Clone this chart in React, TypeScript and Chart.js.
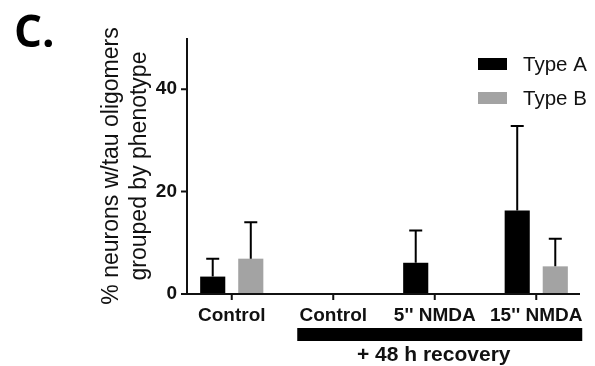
import React, { useEffect, useRef } from 'react';
import { Chart, registerables } from 'chart.js';

Chart.register(...registerables);

const categories = ['Control', 'Control', "5'' NMDA", "15'' NMDA"];
const seriesNames = ['Type A', 'Type B'];
const typeA = [3.4, 0, 6.1, 16.3];
const typeAErr = [3.5, 0, 6.3, 16.5];
const typeB = [6.9, 0, 0, 5.4];
const typeBErr = [7.1, 0, 0, 5.4];
const yTicks = [0, 20, 40];
const yMax = 50;
const yTitle = ['% neurons w/tau oligomers', 'grouped by phenotype'];
const groupLabel = '+ 48 h recovery';
const panelLabel = 'C.';

const colors = ['#000000', '#a3a3a3'];
const FONT = '"Liberation Sans", Arial, sans-serif';

const decorPlugin = {
  id: 'decor',
  afterDatasetsDraw(chart: any) {
    const ctx = chart.ctx;
    const xs = chart.scales.x;
    const ys = chart.scales.y;
    const area = chart.chartArea;
    const y0 = ys.getPixelForValue(0);
    const yTop = ys.getPixelForValue(yMax);
    const axisX = area.left + 6;
    ctx.save();

    // error bars
    const errs = [typeAErr, typeBErr];
    const vals = [typeA, typeB];
    chart.data.datasets.forEach((ds: any, di: number) => {
      const meta = chart.getDatasetMeta(di);
      meta.data.forEach((bar: any, i: number) => {
        const e = errs[di][i];
        if (!e) return;
        const top = ys.getPixelForValue(vals[di][i]);
        const cap = ys.getPixelForValue(vals[di][i] + e);
        ctx.strokeStyle = '#000';
        ctx.lineWidth = 2;
        ctx.beginPath();
        ctx.moveTo(bar.x, top);
        ctx.lineTo(bar.x, cap);
        ctx.moveTo(bar.x - 6.5, cap);
        ctx.lineTo(bar.x + 6.5, cap);
        ctx.stroke();
      });
    });

    // axes
    ctx.strokeStyle = '#111';
    ctx.lineWidth = 2;
    ctx.beginPath();
    ctx.moveTo(axisX, yTop);
    ctx.lineTo(axisX, y0 + 1);
    ctx.moveTo(axisX - 1, y0);
    ctx.lineTo(area.right - 7, y0);
    yTicks.forEach((t) => {
      const py = ys.getPixelForValue(t);
      ctx.moveTo(axisX - 6, py);
      ctx.lineTo(axisX, py);
    });
    categories.forEach((_, i) => {
      const px = xs.getPixelForValue(i);
      ctx.moveTo(px, y0);
      ctx.lineTo(px, y0 + 6);
    });
    ctx.stroke();

    // group bar + label
    const gx1 = xs.getPixelForValue(1) - 36;
    const gx2 = xs.getPixelForValue(3) + 46;
    ctx.fillStyle = '#000';
    ctx.fillRect(gx1, 328, gx2 - gx1, 13);
    ctx.font = `bold 21px ${FONT}`;
    ctx.textAlign = 'center';
    ctx.textBaseline = 'middle';
    ctx.fillStyle = '#111';
    ctx.fillText(groupLabel, xs.getPixelForValue(2) - 1, 355);

    // legend
    ctx.font = `20.5px ${FONT}`;
    ctx.textAlign = 'left';
    seriesNames.forEach((name, i) => {
      const cy = 64 + i * 34;
      ctx.fillStyle = colors[i];
      ctx.fillRect(478, cy - 6, 29, 12);
      ctx.fillStyle = '#111';
      ctx.fillText(name, 523, cy + 1);
    });

    // panel label
    ctx.font = `bold 44px "Open Sans", ${FONT}`;
    ctx.textBaseline = 'alphabetic';
    ctx.fillStyle = '#000';
    ctx.fillText(panelLabel, 14, 47);
    ctx.restore();
  },
};

export default function App() {
  const ref = useRef<HTMLCanvasElement>(null);
  useEffect(() => {
    if (!ref.current) return;
    const chart = new Chart(ref.current, {
      type: 'bar',
      data: {
        labels: categories,
        datasets: [
          { label: seriesNames[0], data: typeA, backgroundColor: colors[0], categoryPercentage: 0.75, barPercentage: 0.66 },
          { label: seriesNames[1], data: typeB, backgroundColor: colors[1], categoryPercentage: 0.75, barPercentage: 0.66 },
        ],
      },
      options: {
        responsive: false,
        animation: false,
        devicePixelRatio: 1,
        events: [],
        layout: { padding: { left: 0, top: 38, right: 8, bottom: 0 } },
        plugins: { legend: { display: false }, tooltip: { enabled: false } },
        scales: {
          x: {
            grid: { display: false, drawTicks: false },
            border: { display: false },
            ticks: { color: '#111', font: { family: FONT, size: 19, weight: 'bold' }, padding: 10, maxRotation: 0, autoSkip: false },
            afterFit: (s: any) => { s.height = 72; },
          },
          y: {
            min: 0,
            max: yMax,
            grid: { display: false, drawTicks: false },
            border: { display: false },
            ticks: { stepSize: 20, color: '#111', font: { family: FONT, size: 19, weight: 'bold' }, padding: 4 },
            afterBuildTicks: (s: any) => { s.ticks = yTicks.map((v) => ({ value: v })); },
            title: {
              display: true,
              text: yTitle,
              color: '#111',
              font: { family: FONT, size: 23, lineHeight: 28 / 23 },
              padding: { top: 98, bottom: 0 },
            },
            afterFit: (s: any) => { s.width = 181; },
          },
        },
      },
      plugins: [decorPlugin],
    });
    return () => chart.destroy();
  }, []);
  return (
    <div style={{ position: 'fixed', left: 0, top: 0, width: 595, height: 366, background: '#fff' }}>
      <canvas ref={ref} width={595} height={366} style={{ width: 595, height: 366 }} />
    </div>
  );
}
